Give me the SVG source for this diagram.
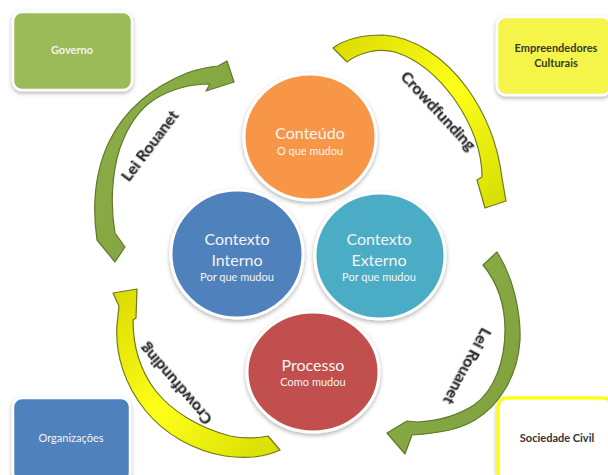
<svg xmlns="http://www.w3.org/2000/svg" width="608" height="475" viewBox="0 0 608 475">
<defs>
<filter id="sh" x="-20%" y="-20%" width="140%" height="140%">
<feDropShadow dx="0" dy="2" stdDeviation="2" flood-color="#000" flood-opacity="0.3"/>
</filter>
<filter id="tsh" x="-10%" y="-30%" width="120%" height="160%">
<feDropShadow dx="1" dy="1" stdDeviation="0.6" flood-color="#000" flood-opacity="0.25"/>
</filter>
<linearGradient id="gy" x1="0" y1="0" x2="1" y2="1">
<stop offset="0" stop-color="#DADA00"/>
<stop offset="0.5" stop-color="#FFFF1A"/>
<stop offset="1" stop-color="#D4DC00"/>
</linearGradient>
<linearGradient id="gg" x1="0" y1="0" x2="1" y2="1">
<stop offset="0" stop-color="#8DB048"/>
<stop offset="1" stop-color="#7FA03E"/>
</linearGradient>
</defs>
<style>
.box{stroke:#fff;stroke-width:2.5;filter:url(#sh)}
.circ{stroke:#fff;stroke-width:3;filter:url(#sh)}
.big{font-family:Lato,"Liberation Sans",sans-serif;font-size:16px;fill:#F4F4F4;text-anchor:middle}
.sub{font-family:Lato,"Liberation Sans",sans-serif;font-size:11px;fill:#F4F4F4;text-anchor:middle}
.bl{font-family:Lato,"Liberation Sans",sans-serif;font-size:11px;font-weight:bold;text-anchor:middle}
.lab{font-family:Lato,"Liberation Sans",sans-serif;font-size:16px;font-weight:bold;fill:#262626;text-anchor:middle;filter:url(#tsh)}
.ga{fill:url(#gg);stroke:#5E7A2A;stroke-width:1.2;stroke-linejoin:round}
.ya{fill:url(#gy);stroke:#6E7A1E;stroke-width:1.2;stroke-linejoin:round}
</style>
<rect width="608" height="475" fill="#fff"/>

<g id="governo">
<rect class="box" x="13" y="12" width="119" height="78" rx="9" fill="#9BBB59"/>
<text class="bl" x="72" y="54" fill="#F2F2F2">Governo</text>
</g>
<g id="empreendedores">
<rect class="box" x="497" y="17" width="114" height="78" rx="9" fill="#F5F54A"/>
<text class="bl" x="556" y="52" fill="#3A3A2A">Empreendedores</text>
<text class="bl" x="556" y="67" fill="#3A3A2A">Culturais</text>
</g>
<g id="organizacoes">
<rect class="box" x="13" y="398" width="117" height="84" rx="9" fill="#4F81BD"/>
<text class="sub" x="71" y="442">Organizações</text>
</g>
<g id="sociedade">
<rect x="498" y="398" width="114" height="84" rx="9" fill="#fff" stroke="#FFFF00" stroke-width="3" filter="url(#sh)"/>
<text class="bl" x="557" y="442" fill="#333">Sociedade Civil</text>
</g>

<g id="conteudo">
<ellipse class="circ" cx="310" cy="137" rx="66" ry="63" fill="#F79646"/>
<text class="big" x="310" y="139">Conteúdo</text>
<text class="sub" x="310" y="155">O que mudou</text>
</g>
<g id="contexto-interno">
<ellipse class="circ" cx="237" cy="254" rx="66" ry="64" fill="#4F81BD"/>
<text class="big" x="237" y="245">Contexto</text>
<text class="big" x="237" y="266">Interno</text>
<text class="sub" x="237" y="281">Por que mudou</text>
</g>
<g id="contexto-externo">
<ellipse class="circ" cx="380" cy="256" rx="65" ry="63" fill="#4BACC6"/>
<text class="big" x="379" y="245">Contexto</text>
<text class="big" x="379" y="266">Externo</text>
<text class="sub" x="379" y="281">Por que mudou</text>
</g>
<g id="processo">
<ellipse class="circ" cx="313" cy="372" rx="66" ry="60" fill="#C0504D"/>
<text class="big" x="313" y="371">Processo</text>
<text class="sub" x="313" y="386">Como mudou</text>
</g>

<g id="connectors">
<path class="ga" d="M115,262 L97,240 C92,205 95,170 110,140 C125,110 150,88 187,73 C198,69 206,67 218,66 L227,61 L234,82 L206,91 L210,84 C190,84 170,90 155,99 C138,110 127,128 120,148 C112,172 110,205 115,233 L125,247 Z"/>
<path class="ya" d="M333,48 C345,39 362,35 383,35 C415,37 445,58 467,88 C485,113 498,145 502,178 L506,201 L485,208 L477,180 L482,177 C482,150 470,122 455,100 C440,79 420,60 395,52 C378,48 360,52 347,62 Z"/>
<path class="ga" d="M497,252 C512,275 521,310 520,340 C518,375 500,405 475,420 C458,430 440,433 412,435 L405,454 L387,433 L407,421 L417,422 C440,421 460,414 474,405 C495,390 505,360 505,330 C505,305 497,282 483,265 Z"/>
<path class="ya" d="M268,436 L280,450 C265,457 245,459 225,456 C195,451 165,435 145,410 C125,385 115,355 117,325 L119,306 L113,293 L137,289 L136,318 L133,320 C133,345 140,370 155,390 C172,412 200,428 230,436 C245,439 258,438 268,436 Z"/>
<text class="lab" transform="translate(150,146) rotate(-53)" y="5">Lei Rouanet</text>
<text class="lab" transform="translate(438,111) rotate(47)" y="5">Crowdfunding</text>
<text class="lab" transform="translate(467,366) rotate(118)" y="5">Lei Rouanet</text>
<text class="lab" transform="translate(176,384) rotate(-131)" y="5">Crowdfunding</text>
</g>
</svg>
